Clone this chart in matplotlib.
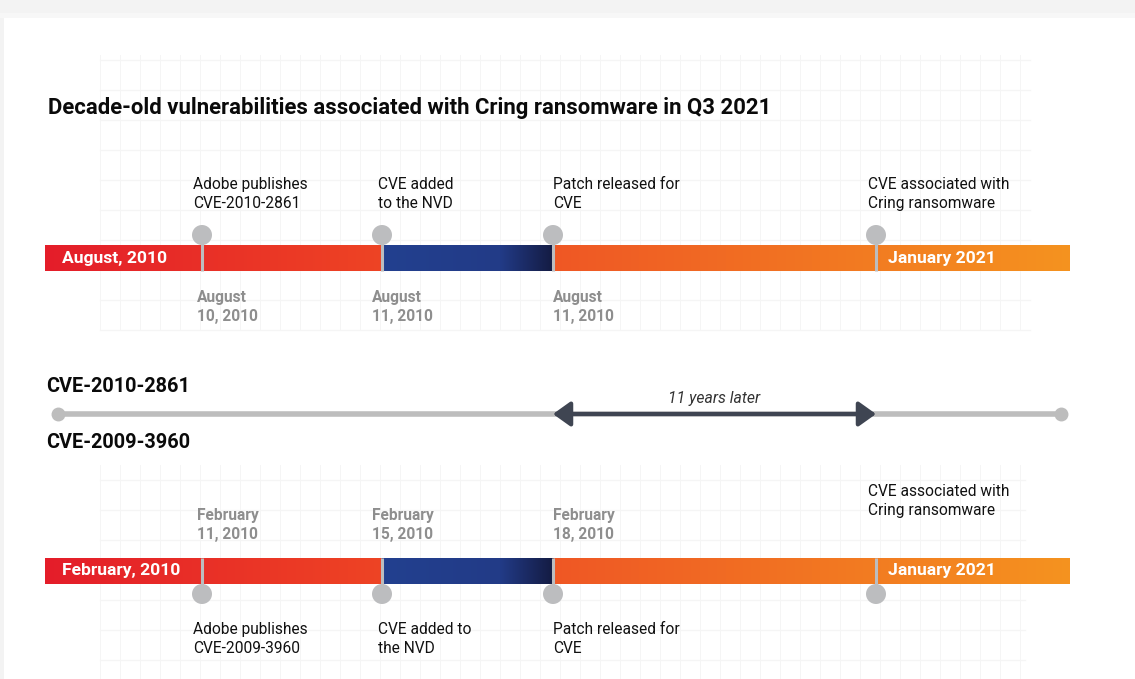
import numpy as np
import matplotlib
matplotlib.use("Agg")
import matplotlib.pyplot as plt
from matplotlib.colors import to_rgb
from matplotlib.patches import Rectangle, Circle, FancyArrowPatch

plt.rcParams['font.family'] = ['Roboto', 'DejaVu Sans']

# ---------------- data ----------------
title = "Decade-old vulnerabilities associated with Cring ransomware in Q3 2021"
cve_names = ["CVE-2010-2861", "CVE-2009-3960"]
start_labels = ["August, 2010", "February, 2010"]
end_label = "January 2021"
events_top = ["Adobe publishes\nCVE-2010-2861", "CVE added\nto the NVD",
              "Patch released for\nCVE", "CVE associated with\nCring ransomware"]
dates_top = ["August\n10, 2010", "August\n11, 2010", "August\n11, 2010", None]
events_bot = ["Adobe publishes\nCVE-2009-3960", "CVE added to\nthe NVD",
              "Patch released for\nCVE", "CVE associated with\nCring ransomware"]
dates_bot = ["February\n11, 2010", "February\n15, 2010", "February\n18, 2010", None]
gap_label = "11 years later"

# ---------------- layout (pixels) ----------------
W, H = 1135, 679
marker_x = [202, 382, 553, 876]
event_dx = [-9, -4, 0, -8]
date_dx = [-5, -10, 0, 0]
bar_x0, bar_x1 = 45, 1070
bar_h = 26
top_bar_y = 258
bot_bar_y = 571

fig = plt.figure(figsize=(W / 100, H / 100), dpi=100, facecolor="#f3f3f3")
ax = fig.add_axes([0, 0, 1, 1])
ax.set_xlim(0, W)
ax.set_ylim(H, 0)
ax.axis("off")

# card
ax.add_patch(Rectangle((4, 18), W, H, facecolor="white", edgecolor="none", zorder=0))
ax.add_patch(Rectangle((0, 13), W, 5, facecolor="#f7f7f7", edgecolor="none", zorder=0))

# faint grids
grid_c = "#f5f5f5"
def grid(x0, x1, y0, y1, dx=20, dy=30, yoff=0):
    for x in np.arange(x0, x1 + 1, dx):
        ax.plot([x, x], [y0, y1], color=grid_c, lw=0.7, zorder=1)
    for y in np.arange(y0 + yoff, y1 + 1, dy):
        ax.plot([x0, x1], [y, y], color=grid_c, lw=1.0, zorder=1)
grid(100, 1030, 55, 330, yoff=5)
grid(100, 1025, 465, 679, yoff=15)

# gradient bar
def hexs(c):
    return np.array(to_rgb(c))

def gradient_bar(yc):
    stops = [
        (bar_x0, "#e41d2a"), (381.9, "#ee4424"),
        (382.0, "#23408f"), (500, "#223b87"), (553.0, "#141b42"),
        (553.1, "#ef5725"), (bar_x1, "#f5931f"),
    ]
    xs = np.arange(bar_x0, bar_x1, 0.5)
    sx = np.array([s[0] for s in stops])
    cols = np.array([hexs(s[1]) for s in stops])
    img = np.stack([np.interp(xs, sx, cols[:, k]) for k in range(3)], axis=-1)
    img = img[None, :, :]
    ax.imshow(img, extent=(bar_x0, bar_x1, yc + bar_h / 2, yc - bar_h / 2),
              aspect="auto", zorder=3, interpolation="bilinear")

gradient_bar(top_bar_y)
gradient_bar(bot_bar_y)
ax.set_xlim(0, W)
ax.set_ylim(H, 0)

pin_c = "#bcbdbf"
txt_fs = 11.2
date_c = "#8e8e8e"
ls = 1.3

# top timeline pins
for i, x in enumerate(marker_x):
    cy = 235
    ax.plot([x, x], [cy, top_bar_y + bar_h / 2], color=pin_c, lw=2.2, zorder=4,
            solid_capstyle="butt")
    ax.add_patch(Circle((x, cy), 10, facecolor=pin_c, edgecolor="none", zorder=5))
    ax.text(x + event_dx[i], 194, events_top[i], fontsize=txt_fs, color="#111111",
            ha="left", va="center", linespacing=ls, zorder=6)
    if dates_top[i]:
        ax.text(x + date_dx[i], 307, dates_top[i], fontsize=txt_fs, color=date_c,
                fontweight="bold", ha="left", va="center", linespacing=ls, zorder=6)

# bottom timeline pins
for i, x in enumerate(marker_x):
    cy = 594
    ax.plot([x, x], [bot_bar_y - bar_h / 2, cy], color=pin_c, lw=2.2, zorder=4,
            solid_capstyle="butt")
    ax.add_patch(Circle((x, cy), 10, facecolor=pin_c, edgecolor="none", zorder=5))
    ey = 639 if i < 3 else 501
    ax.text(x + event_dx[i], ey, events_bot[i], fontsize=txt_fs, color="#111111",
            ha="left", va="center", linespacing=ls, zorder=6)
    if dates_bot[i]:
        ax.text(x + date_dx[i], 525, dates_bot[i], fontsize=txt_fs, color=date_c,
                fontweight="bold", ha="left", va="center", linespacing=ls, zorder=6)

# bar labels
for lbl, yc in zip(start_labels, [top_bar_y, bot_bar_y]):
    ax.text(62, yc, lbl, color="white", fontsize=12.6, fontweight="bold",
            ha="left", va="center", zorder=6)
    ax.text(888, yc, end_label, color="white", fontsize=12.6, fontweight="bold",
            ha="left", va="center", zorder=6)

# title
ax.text(48, 108, title, fontsize=15.9, fontweight="bold", color="#0a0a0a",
        ha="left", va="center", zorder=6)

# middle comparison line
mid_y = 414
ax.plot([58, 1061], [mid_y, mid_y], color="#bdbdbd", lw=4, solid_capstyle="round", zorder=3)
ax.plot([58, 1061], [mid_y, mid_y], "o", color="#bdbdbd", ms=9, zorder=3)
ax.add_patch(FancyArrowPatch((marker_x[2], mid_y), (marker_x[3], mid_y),
                             arrowstyle="<|-|>,head_length=7,head_width=5",
                             color="#3f4552", lw=3, mutation_scale=1.5, zorder=4,
                             shrinkA=0, shrinkB=0))
ax.text((marker_x[2] + marker_x[3]) / 2, 398, gap_label, fontsize=11.3, style="italic",
        color="#333333", ha="center", va="center", zorder=6)
ax.text(46, 386, cve_names[0], fontsize=14.3, fontweight="bold", color="#0a0a0a",
        ha="left", va="center", zorder=6)
ax.text(46, 443, cve_names[1], fontsize=14.3, fontweight="bold", color="#0a0a0a",
        ha="left", va="center", zorder=6)

fig.savefig("out.png", dpi=100, facecolor=fig.get_facecolor())
